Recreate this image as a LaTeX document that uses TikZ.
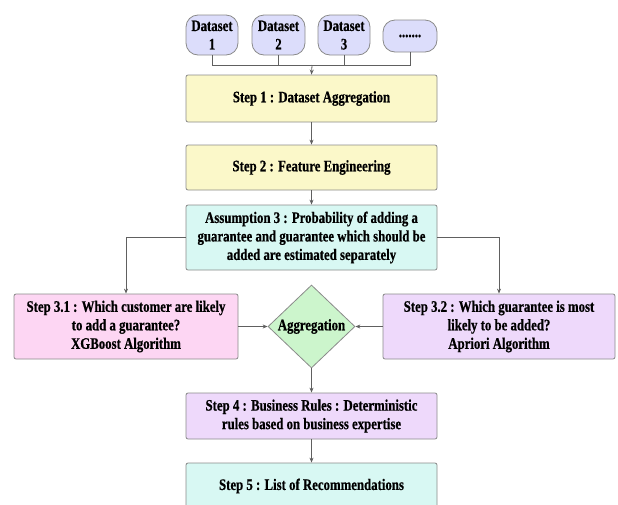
\documentclass[tikz,border=0pt]{standalone}
\usepackage{fontspec}
\setmainfont{Liberation Serif}[FakeStretch=0.8, BoldFeatures={FakeBold=0.6}]
\usetikzlibrary{shapes.geometric,arrows.meta}
\definecolor{byellow}{HTML}{FBF8C9}
\definecolor{bcyan}{HTML}{D8F8F3}
\definecolor{bpink}{HTML}{FDD6F3}
\definecolor{bpurple}{HTML}{EED9FB}
\definecolor{bdata}{HTML}{DCDDFB}
\definecolor{bgreen}{HTML}{CCF5CC}
\definecolor{bord}{HTML}{8A8A8A}
\definecolor{lin}{HTML}{606060}
\begin{document}
\begin{tikzpicture}[x=1pt,y=-1pt,
  txt/.style={font=\bfseries\fontsize{16}{18.5}\selectfont, align=center, text=black},
  box/.style={txt, draw=bord, line width=0.8pt, rounded corners=2pt, inner sep=0pt},
  dbox/.style={box, fill=bdata, rounded corners=12pt, minimum width=52pt, minimum height=40pt},
  conn/.style={draw=lin, line width=0.8pt},
  arr/.style={conn, -{Stealth[length=5pt,width=4pt]}}]
\useasboundingbox (0,0) rectangle (618,504);
\clip (0,0) rectangle (618,504);

\node[dbox] (d1) at (212,35) {Dataset\\1};
\node[dbox, minimum width=53pt] (d2) at (278.5,35) {Dataset\\2};
\node[dbox] (d3) at (344,35) {Dataset\\3};
\node[dbox, minimum width=54pt, minimum height=32pt] (d4) at (410,36) {.......};
\coordinate (m) at (312,65);

\node[box, fill=byellow, minimum width=251pt, minimum height=47pt] (s1) at (311.5,98.5) {Step 1 : Dataset Aggregation};
\node[box, fill=byellow, minimum width=251pt, minimum height=45pt] (s2) at (311.5,167.5) {Step 2 : Feature Engineering};
\node[box, fill=bcyan, minimum width=251pt, minimum height=65pt] (a3) at (311.5,237.5) {Assumption 3 : Probability of adding a\\guarantee and guarantee which should be\\added are estimated separately};
\node[box, fill=bpink, minimum width=224pt, minimum height=65pt] (s31) at (126,326.5) {Step 3.1 : Which customer are likely\\to add a guarantee?\\XGBoost Algorithm};
\node[box, fill=bpurple, minimum width=232pt, minimum height=65pt] (s32) at (499,326.5) {Step 3.2 : Which guarantee is most\\likely to be added?\\Apriori Algorithm};
\node[txt, diamond, draw=bord, line width=0.8pt, fill=bgreen, inner sep=0pt, minimum width=87pt, minimum height=83pt] (ag) at (311.5,326.5) {\makebox[0pt]{Aggregation}};
\node[box, fill=bpurple, minimum width=251pt, minimum height=46pt] (s4) at (311.5,416) {Step 4 : Business Rules : Deterministic\\rules based on business expertise};
\node[box, fill=bcyan, minimum width=251pt, minimum height=46pt] (s5) at (311.5,486) {Step 5 : List of Recommendations};

\draw[conn] (d1.south) |- (m);
\draw[conn] (d2.south) |- (m);
\draw[conn] (d3.south) |- (m);
\draw[conn] (d4.south) |- (m);
\draw[arr] (m) -- (s1.north);
\draw[arr] (s1) -- (s2);
\draw[arr] (s2) -- (a3);
\draw[arr] (a3.west) -| (s31.north);
\draw[arr] (a3.east) -| (s32.north);
\draw[arr] (s31) -- (ag);
\draw[arr] (s32) -- (ag);
\draw[arr] (ag) -- (s4);
\draw[arr] (s4) -- (s5);
\end{tikzpicture}
\end{document}
